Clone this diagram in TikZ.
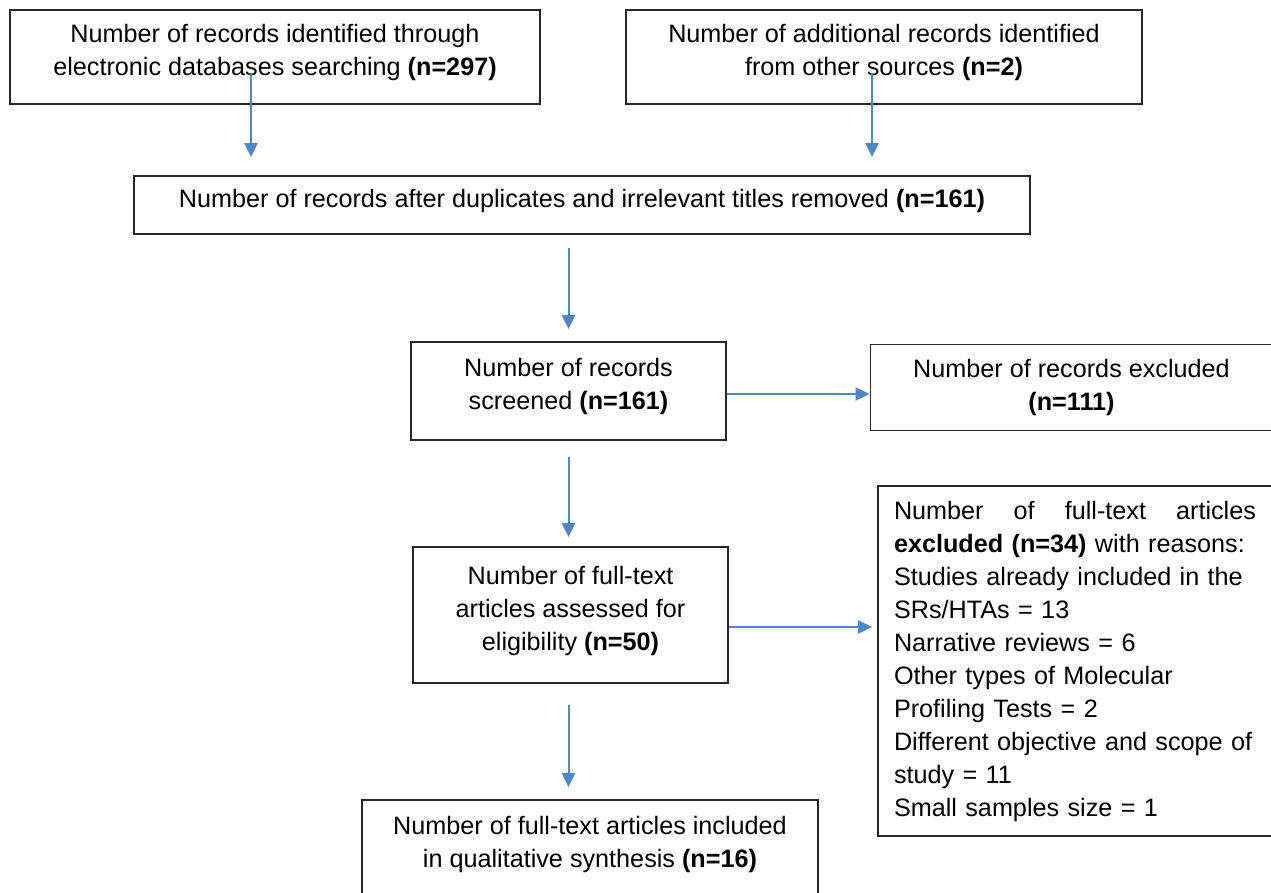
\documentclass[tikz,border=0pt]{standalone}
\usepackage{fontspec}
\setmainfont{Liberation Sans}
\usepackage{xcolor}
\definecolor{flowblue}{HTML}{4F86C6}
\definecolor{boxgray}{HTML}{262626}
\usetikzlibrary{
    arrows.meta,
    calc,
}
\tikzset{
    framedbox/.style={
            draw=boxgray,
            line width=0.9pt,
            inner sep=0pt,
            align=center,
            font=\fontsize{12.6}{16.5}\selectfont,
        }
}
\tikzset{
    boxnode/.style={
            framedbox,
            execute at end node={\rule[-7pt]{0pt}{0pt}},
        }
}
\tikzset{
    flowarrow/.style={
            draw=flowblue,
            line width=1pt,
            -{Triangle[length=7pt,width=6.5pt]},
        }
}
\newcommand{\nres}[1]{\textbf{(n=#1)}}

\begin{document}
\begin{tikzpicture}[x=0.5pt,y=-0.5pt]
    \useasboundingbox (0,0) rectangle (1271,893);

    % identification
    \node[
        boxnode,
        minimum width=265pt,
        minimum height=47pt,
    ] (DB) at (275,57) {Number of records identified through\\electronic databases searching \nres{297}};
    \node[
        boxnode,
        minimum width=258pt,
        minimum height=47pt,
    ] (OS) at (884,57) {Number of additional records identified\\from other sources \nres{2}};

    % duplicates removed
    \node[
        boxnode,
        minimum width=448pt,
        minimum height=29pt,
    ] (Dup) at (582,205) {Number of records after duplicates and irrelevant titles removed \nres{161}};

    % screening
    \node[
        boxnode,
        minimum width=157.5pt,
        minimum height=49pt,
    ] (Screen) at (568.5,391) {Number of records\\screened \nres{161}};
    \node[
        framedbox,
        minimum width=201pt,
        minimum height=43pt,
    ] (Excl) at (1071.5,387.5) {Number of records excluded\\\nres{111}};

    % eligibility
    \node[
        boxnode,
        minimum width=157.5pt,
        minimum height=68pt,
    ] (Assess) at (570.5,615) {Number of full-text\\articles assessed for\\eligibility \nres{50}};
    \node[
        framedbox,
        minimum width=197pt,
        minimum height=175pt,
        text width=181pt,
        align=left,
    ] (Reasons) at (1075,661) {Number\hfill of\hfill full-text\hfill articles\\
        \textbf{excluded (n=34)} with reasons:\\
        Studies already included in the\\
        SRs/HTAs = 13\\
        Narrative reviews = 6\\
        Other types of Molecular\\
        Profiling Tests = 2\\
        Different objective and scope of\\
        study = 11\\
        Small samples size = 1};

    % included
    \node[
        boxnode,
        minimum width=228pt,
        minimum height=48.5pt,
    ] (Incl) at (590,848.5) {Number of full-text articles included\\in qualitative synthesis \nres{16}};

    % identification -> duplicates removed
    \coordinate (DBout) at ($(DB.center)+(-24,16)$);
    \coordinate (OSout) at ($(OS.center)+(-12,16)$);
    \draw[flowarrow, shorten >=9pt] (DBout) -- (DBout |- Dup.north);
    \draw[flowarrow, shorten >=9pt] (OSout) -- (OSout |- Dup.north);

    % duplicates removed -> screening
    \draw[flowarrow, shorten <=6.5pt, shorten >=6pt] (Dup.south -| Screen) -- (Screen.north);

    % screening -> excluded
    \coordinate (ScreenOut) at ($(Screen.east)+(0,3)$);
    \draw[flowarrow] (ScreenOut) -- (ScreenOut -| Excl.west);

    % screening -> eligibility
    \draw[flowarrow, shorten <=8pt, shorten >=4.5pt] (Screen.south) -- (Assess.north -| Screen);

    % eligibility -> reasons
    \coordinate (AssessOut) at ($(Assess.east)+(0,12)$);
    \draw[flowarrow, shorten >=2.5pt] (AssessOut) -- (AssessOut -| Reasons.west);

    % eligibility -> included
    \draw[flowarrow, shorten <=10.5pt, shorten >=6pt] (Assess.south -| Screen) -- (Incl.north -| Screen);
\end{tikzpicture}
\end{document}
